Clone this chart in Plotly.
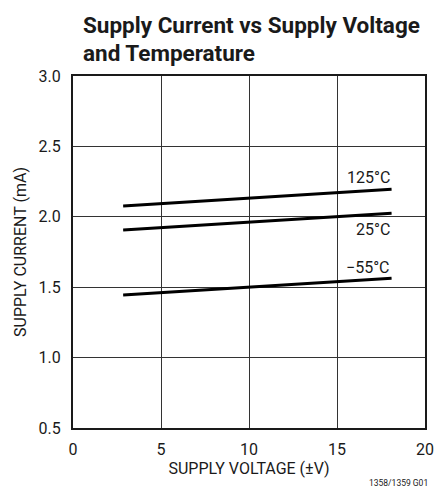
import plotly.graph_objects as go

# Data
voltage = [2.85, 18.1]
temps = ["125°C", "25°C", "−55°C"]
current_125 = [2.077, 2.195]
current_25 = [1.906, 2.025]
current_m55 = [1.445, 1.563]
label_y = [2.28, 1.91, 1.638]
x_ticks = [0, 5, 10, 15, 20]
y_ticks = [0.5, 1.0, 1.5, 2.0, 2.5, 3.0]
title_lines = ["Supply Current vs Supply Voltage", "and Temperature"]

FONT = "Roboto, Liberation Sans, Arial, sans-serif"
INK = "#1a1a1a"

fig = go.Figure()
for ys in [current_125, current_25, current_m55]:
    fig.add_trace(go.Scatter(x=voltage, y=ys, mode="lines",
                             line=dict(color="black", width=3), showlegend=False,
                             hoverinfo="skip"))

for t, ly in zip(temps, label_y):
    fig.add_annotation(x=voltage[-1], y=ly, text=t, showarrow=False, xanchor="right",
                       yanchor="middle", font=dict(family=FONT, size=16, color=INK))

for i, (line, ys) in enumerate(zip(title_lines, [51, 23])):
    fig.add_annotation(x=0, y=1, xref="paper", yref="paper", xanchor="left", yanchor="middle",
                       xshift=8, yshift=ys, text="<b>" + line + "</b>", showarrow=False,
                       font=dict(family=FONT, size=22.5, color=INK))

fig.add_annotation(x=1.0, y=0, xref="paper", yref="paper", xanchor="right", yanchor="middle",
                   xshift=5, yshift=-55, text="1358/1359 G01", showarrow=False,
                   font=dict(family=FONT, size=8.5, color=INK))

fig.update_layout(
    width=435, height=487,
    margin=dict(l=73, r=10, t=76, b=59, autoexpand=False),
    paper_bgcolor="white", plot_bgcolor="white",
    font=dict(family=FONT, size=16, color=INK),
)
fig.update_xaxes(range=[0, 20], tickvals=x_ticks, showgrid=True, gridcolor="#333",
                 gridwidth=1, showline=True, linecolor=INK, linewidth=2, mirror=True,
                 ticks="", zeroline=False, ticklabelstandoff=6, automargin=False,
                 title=dict(text="SUPPLY VOLTAGE (±V)", font=dict(size=16), standoff=4))
fig.update_yaxes(range=[0.5, 3.0], tickvals=y_ticks, tickformat=".1f", showgrid=True,
                 gridcolor="#333", gridwidth=1, showline=True, linecolor=INK,
                 linewidth=2, mirror=True, ticks="", zeroline=False, ticklabelstandoff=7,
                 automargin=False,
                 title=dict(text="SUPPLY CURRENT (mA)", font=dict(size=16), standoff=8))

fig.write_html("out.html", config={"displayModeBar": False},
               post_script="document.body.style.margin='0';")
